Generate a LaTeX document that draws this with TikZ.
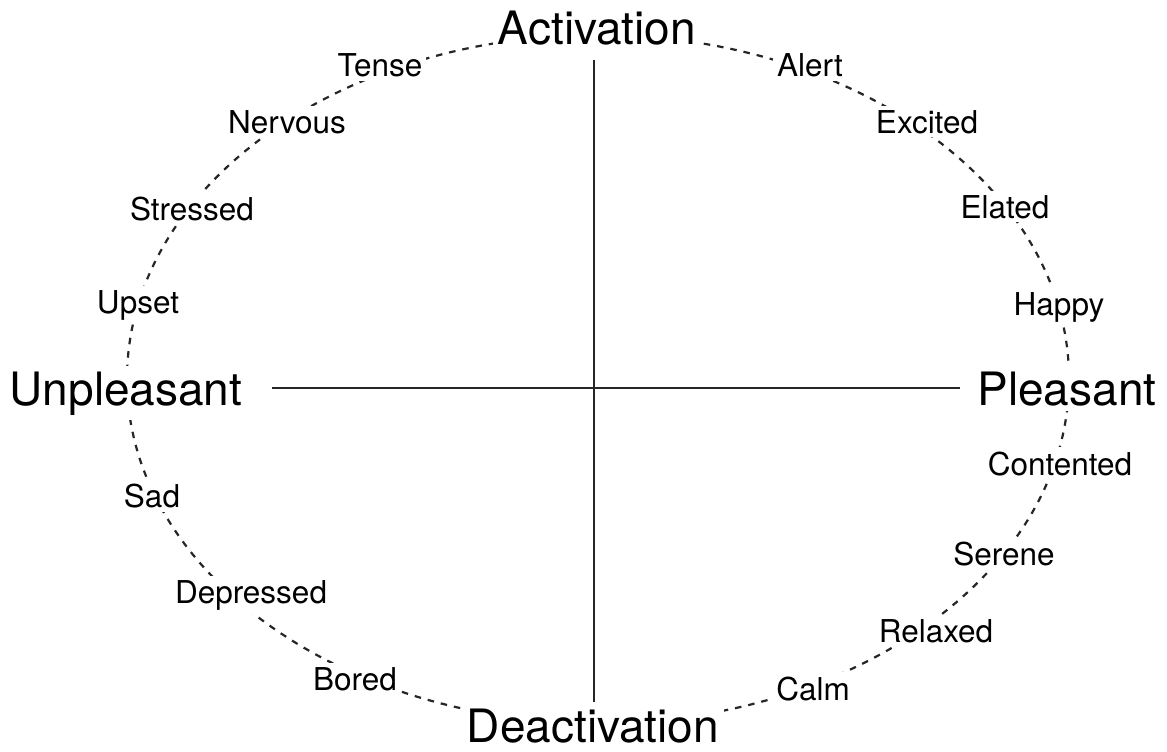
\documentclass[tikz,border=0pt]{standalone}
\usepackage{fontspec}
\setmainfont{TeX Gyre Heros}
\begin{document}
\begin{tikzpicture}[x=1pt,y=-1pt,
  ring/.style={draw=black!85, line width=2.2pt, dash pattern=on 6.5pt off 7pt},
  axis/.style={draw=black!85, line width=1.6pt},
  pole/.style={fill=white, inner sep=5pt, anchor=base, font=\fontsize{46}{55}\selectfont},
  mood/.style={fill=white, inner sep=4pt, anchor=base, font=\fontsize{31.5}{38}\selectfont}]
  \useasboundingbox (0,0) rectangle (1167,752);
  \fill[white] (0,0) rectangle (1167,752);
  % dashed circumplex ring
  \draw[ring] (598,379) ellipse [x radius=471, y radius=344];
  % axes
  \coordinate (vt) at (594,60);
  \coordinate (vb) at (594,702);
  \coordinate (hl) at (272,388);
  \coordinate (hr) at (960,388);
  \draw[axis] (vt) -- (vb);
  \draw[axis] (hl) -- (hr);
  % poles
  \node[pole] (act) at (597,45) {Activation};
  \node[pole] (deact) at (593,742) {Deactivation};
  \node[pole] (unpl) at (126,405) {Unpleasant};
  \node[pole] (pleas) at (1067,405) {Pleasant};
  % moods, upper left
  \node[mood] (tense) at (380,77) {Tense};
  \node[mood] (nervous) at (287,133) {Nervous};
  \node[mood] (stressed) at (192,220) {Stressed};
  \node[mood] (upset) at (138,313) {Upset};
  % lower left
  \node[mood] (sad) at (152,507) {Sad};
  \node[mood] (depressed) at (251,603) {Depressed};
  \node[mood] (bored) at (355,690) {Bored};
  % lower right
  \node[mood] (calm) at (813,700) {Calm};
  \node[mood] (relaxed) at (936,642) {Relaxed};
  \node[mood] (serene) at (1004,565) {Serene};
  \node[mood] (contented) at (1060,475) {Contented};
  % upper right
  \node[mood] (happy) at (1059,315) {Happy};
  \node[mood] (elated) at (1005,218) {Elated};
  \node[mood] (excited) at (927,133) {Excited};
  \node[mood] (alert) at (810,77) {Alert};
\end{tikzpicture}
\end{document}
